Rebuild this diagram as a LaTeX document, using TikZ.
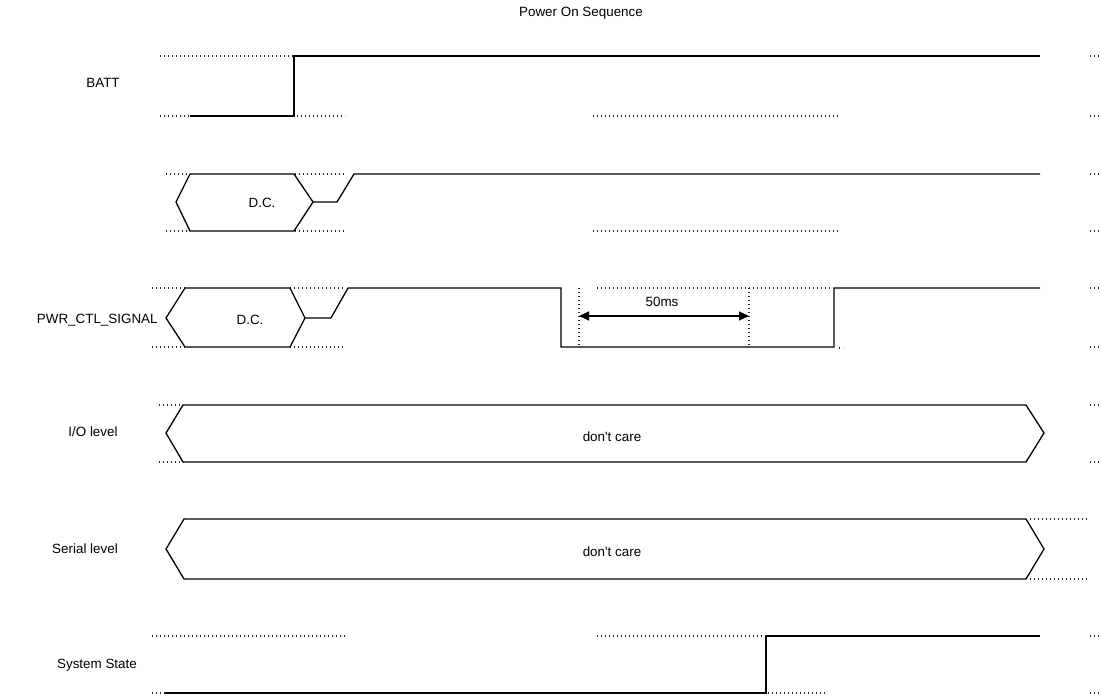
\documentclass[tikz,border=0pt]{standalone}
\usepackage{fontspec}
\setmainfont{Liberation Sans}
\usetikzlibrary{arrows.meta}

\begin{document}
\begin{tikzpicture}[x=0.5pt,y=-0.5pt,line join=miter,
  sig/.style={black,line width=0.65pt},
  dots/.style={black!85,line width=0.55pt,dash pattern=on 0.55pt off 1.45pt},
  lbl/.style={font=\fontsize{6.7}{8}\selectfont,inner sep=0pt}]
\useasboundingbox (0,0) rectangle (1101,696);
\node[lbl] (title) at (581,13) {Power On Sequence};
% BATT
\node[lbl] (batt) at (103,83) {BATT};
\draw[dots] (160,56) -- (293,56);
\draw[dots] (160,116) -- (190,116);
\draw[sig] (190,116) -- (294,116) -- (294,56) -- (1040,56);
\draw[dots] (297,116) -- (345,116);
\draw[dots] (593,116) -- (838,116);
% second row
\draw[dots] (166,174) -- (190,174) (295,174) -- (345,174);
\draw[dots] (166,231) -- (190,231) (295,231) -- (345,231);
\draw[dots] (593,231) -- (838,231);
\draw[sig] (190,174) -- (176,202) -- (190,231) -- (294,231) -- (313,202) -- (294,174) -- cycle;
\draw[sig] (313,202) -- (337,202) -- (354,174) -- (1040,174);
\node[lbl] (dc1) at (262,203) {D.C.};
% PWR_CTL_SIGNAL
\node[lbl,anchor=east] (pwr) at (158,320) {PWR\_CTL\_SIGNAL};
\draw[dots] (152,288) -- (185,288) (290,288) -- (343,288);
\draw[dots] (152,347) -- (185,347) (290,347) -- (343,347);
\draw[sig] (185,288) -- (166,318) -- (185,347) -- (290,347) -- (305,318) -- (290,288) -- cycle;
\draw[sig] (305,318) -- (331,318) -- (348,288) -- (561,288) -- (561,347) -- (834,347) -- (834,288) -- (1040,288);
\node[lbl] (dc2) at (250,320) {D.C.};
\draw[dots] (597,288) -- (830,288);
\draw[dots] (579,288) -- (579,347) (749,288) -- (749,347);
\draw[dots] (839,348) -- (843,348);
\draw[{Triangle[length=5pt,width=4.5pt]}-{Triangle[length=5pt,width=4.5pt]},line width=0.6pt] (579,316) -- (749,316);
\node[lbl] (wait) at (662,302) {50ms};
% I/O level
\node[lbl] (io) at (93,432) {I/O level};
\draw[dots] (159,405) -- (183,405) (159,462) -- (183,462);
\draw[sig] (183,405) -- (166,433) -- (183,462) -- (1026,462) -- (1044,433) -- (1026,405) -- cycle;
\node[lbl] (io care) at (612,437) {don\textquotesingle t care};
% Serial level
\node[lbl] (serial) at (85,549) {Serial level};
\draw[dots] (1030,519) -- (1088,519) (1030,579) -- (1088,579);
\draw[sig] (184,519) -- (166,549) -- (184,579) -- (1026,579) -- (1044,549) -- (1026,519) -- cycle;
\node[lbl] (serial care) at (612,552) {don\textquotesingle t care};
% System State
\node[lbl] (state) at (97,665) {System State};
\draw[dots] (152,636) -- (345,636) (597,636) -- (766,636);
\draw[dots] (152,693) -- (165,693) (768,693) -- (825,693);
\draw[sig] (165,693) -- (766,693) -- (766,636) -- (1040,636);
% right edge
\foreach \y in {56,116,174,231,288,347,405,462,636,693}
  \draw[dots] (1090,\y) -- (1101,\y);
\end{tikzpicture}
\end{document}
